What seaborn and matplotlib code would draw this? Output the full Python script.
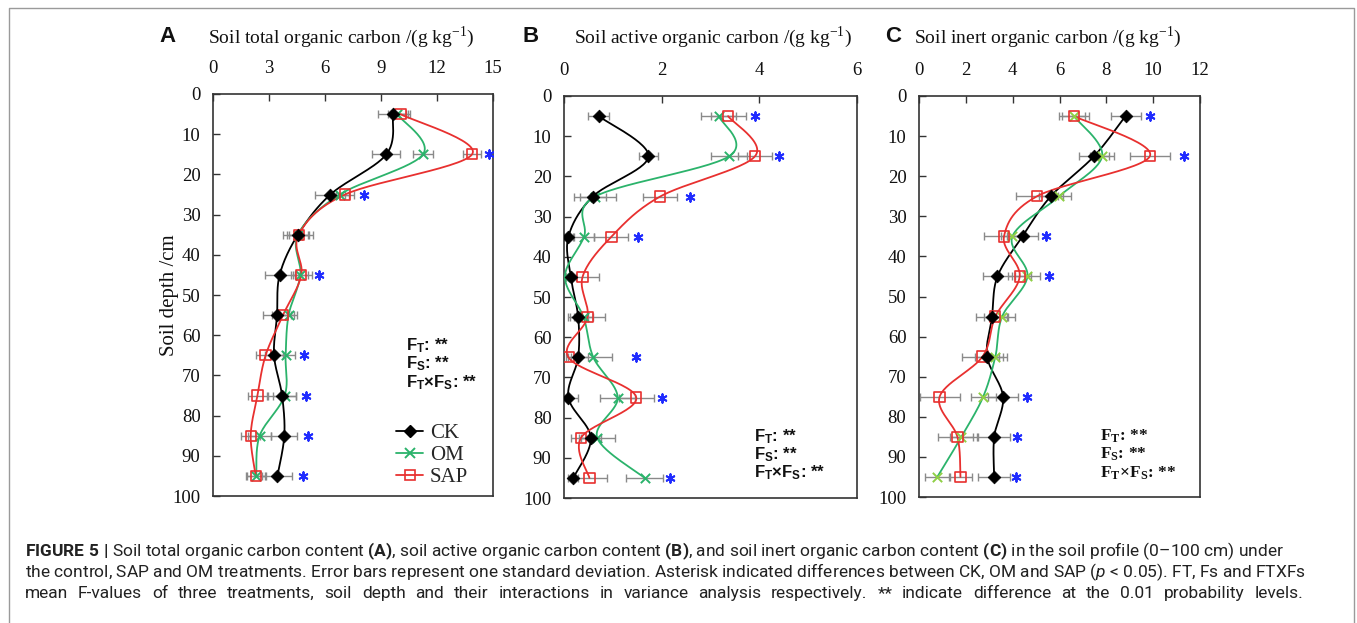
import numpy as np
import matplotlib
matplotlib.use("Agg")
import matplotlib.pyplot as plt
import seaborn as sns
from matplotlib.lines import Line2D

# ---------------- data ----------------
depth = [5, 15, 25, 35, 45, 55, 65, 75, 85, 95]

# soil total organic carbon (g/kg)
toc_ck = [9.64, 9.29, 6.29, 4.55, 3.57, 3.43, 3.27, 3.70, 3.82, 3.45]
toc_om = [9.85, 11.25, 6.79, 4.55, 4.68, 4.05, 3.89, 3.84, 2.50, 2.32]
toc_sap = [10.04, 13.88, 7.07, 4.59, 4.73, 3.75, 2.82, 2.38, 2.02, 2.29]
toc_ck_sd = [0.80, 0.75, 0.80, 0.80, 0.80, 0.75, 0.50, 0.75, 0.70, 0.80]
toc_om_sd = [0.50, 0.52, 0.50, 0.60, 0.40, 0.45, 0.50, 0.60, 0.60, 0.50]
toc_sap_sd = [0.50, 0.50, 0.50, 0.50, 0.55, 0.60, 0.50, 0.50, 0.50, 0.50]
toc_star_depth = [15, 25, 45, 65, 75, 85, 95]
toc_star_x = [14.8, 8.1, 5.7, 4.9, 5.0, 5.1, 4.8]

# soil active organic carbon (g/kg)
aoc_ck = [0.71, 1.73, 0.59, 0.09, 0.14, 0.29, 0.29, 0.09, 0.55, 0.19]
aoc_om = [3.17, 3.38, 0.64, 0.41, 0.02, 0.40, 0.60, 1.10, 0.68, 1.65]
aoc_sap = [3.36, 3.91, 1.97, 0.97, 0.38, 0.48, 0.09, 1.48, 0.35, 0.52]
aoc_ck_sd = [0.21, 0.20, 0.27, 0.10, 0.10, 0.20, 0.20, 0.20, 0.20, 0.10]
aoc_om_sd = [0.36, 0.37, 0.43, 0.20, 0.10, 0.20, 0.38, 0.36, 0.37, 0.38]
aoc_sap_sd = [0.36, 0.34, 0.35, 0.35, 0.34, 0.35, 0.05, 0.36, 0.20, 0.36]
aoc_star_depth = [5, 15, 25, 35, 65, 75, 95]
aoc_star_x = [3.92, 4.40, 2.57, 1.51, 1.48, 2.00, 2.18]

# soil inert organic carbon (g/kg)
ioc_ck = [8.82, 7.48, 5.63, 4.42, 3.35, 3.12, 2.91, 3.59, 3.21, 3.21]
ioc_om = [6.61, 7.82, 5.99, 3.99, 4.63, 3.55, 3.26, 2.74, 1.81, 0.78]
ioc_sap = [6.61, 9.86, 5.04, 3.63, 4.30, 3.26, 2.71, 0.88, 1.64, 1.77]
ioc_ck_sd = [0.64, 0.64, 0.50, 0.67, 0.61, 0.70, 0.50, 0.64, 0.67, 0.67]
ioc_om_sd = [0.65, 0.50, 0.50, 0.50, 0.53, 0.57, 0.50, 0.53, 0.50, 0.54]
ioc_sap_sd = [0.50, 0.85, 0.88, 0.85, 0.50, 0.50, 0.86, 0.85, 0.83, 0.50]
ioc_star_depth = [5, 15, 35, 45, 75, 85, 95]
ioc_star_x = [9.86, 11.3, 5.44, 5.54, 4.63, 4.20, 4.16]

treatments = ["CK", "OM", "SAP"]
depth_ticks = list(range(0, 101, 10))

# ---------------- style ----------------
sns.set_theme(style="white")
SERIF = ["Liberation Serif", "DejaVu Serif"]
SANS = ["Liberation Sans", "DejaVu Sans"]
plt.rcParams["font.family"] = SERIF
plt.rcParams["mathtext.fontset"] = "custom"
plt.rcParams["mathtext.rm"] = "Roboto"
plt.rcParams["mathtext.bf"] = "Roboto:bold"
plt.rcParams["mathtext.it"] = "Roboto:italic"

C_CK = "#000000"
C_OM = "#2bb36b"
C_SAP = "#e8302f"
C_ERR = "#8a8a8a"
C_STAR = "#1f2bff"

W, H = 1357, 623
fig = plt.figure(figsize=(W / 100, H / 100), dpi=100)
fig.patch.set_facecolor("white")


def px_axes(left, top, right, bottom):
    return fig.add_axes([left / W, 1 - bottom / H, (right - left) / W, (bottom - top) / H])


def smooth_curve(xv, yv, sx, sy, n=30):
    """Bezier smoothing (Catmull-Rom control points) in display proportions."""
    P = np.column_stack([np.asarray(xv, float) * sx, np.asarray(yv, float) * sy])
    ext = np.vstack([P[0], P, P[-1]])
    t = np.linspace(0, 1, n)[:, None]
    out = []
    for i in range(len(P) - 1):
        p0, p1, p2, p3 = ext[i], ext[i + 1], ext[i + 2], ext[i + 3]
        c1 = p1 + (p2 - p0) / 6
        c2 = p2 - (p3 - p1) / 6
        seg = ((1 - t) ** 3) * p1 + 3 * ((1 - t) ** 2) * t * c1 + 3 * (1 - t) * t ** 2 * c2 + t ** 3 * p2
        out.append(seg if i == 0 else seg[1:])
    out = np.vstack(out)
    return out[:, 0] / sx, out[:, 1] / sy


def draw_panel(ax, ck, om, sap, sds, star_d, star_x, xmax, xstep, wpx, hpx, om_mark):
    vals = [ck, om, sap]
    cols = [C_CK, C_OM, C_SAP]
    for v, sd in zip(vals, sds):
        ax.errorbar(v, depth, xerr=sd, fmt="none", ecolor=C_ERR, elinewidth=1.0,
                    capsize=3, capthick=1.0, zorder=2)
    for v, c in zip(vals, cols):
        sx_, sy_ = smooth_curve(v, depth, wpx / xmax, hpx / 100.0)
        sns.lineplot(x=sx_, y=sy_, sort=False, estimator=None, color=c, linewidth=1.3,
                     ax=ax, zorder=3, legend=False)
    sns.scatterplot(x=om, y=depth, marker="x", s=45, color=om_mark, linewidth=1.4,
                    ax=ax, zorder=4, legend=False)
    sns.scatterplot(x=sap, y=depth, marker="s", s=55, facecolor="none", edgecolor=C_SAP,
                    linewidth=1.2, ax=ax, zorder=5, legend=False)
    sns.scatterplot(x=ck, y=depth, marker="D", s=42, color=C_CK, edgecolor=C_CK,
                    ax=ax, zorder=6, legend=False)
    sns.scatterplot(x=star_x, y=star_d, marker=(6, 2, 0), s=38, color=C_STAR,
                    linewidth=1.4, ax=ax, zorder=6, legend=False)

    ax.set_xlim(0, xmax)
    ax.set_ylim(100, 0)
    ax.xaxis.tick_top()
    ax.set_xticks(np.arange(0, xmax + 1e-9, xstep))
    ax.set_yticks(depth_ticks)
    ax.tick_params(axis="both", direction="in", length=5, width=1.0, color="#333333",
                   labelsize=13.5, labelcolor="#111111")
    ax.tick_params(axis="x", pad=12.5, top=True, bottom=False)
    ax.tick_params(axis="y", pad=9, left=True, right=False)
    for lab in ax.get_xticklabels() + ax.get_yticklabels():
        lab.set_fontfamily(SERIF)
    for sp in ax.spines.values():
        sp.set_visible(True)
        sp.set_color("#333333")
        sp.set_linewidth(1.2)
    ax.set_xlabel("")
    ax.set_ylabel("")
    ax.grid(False)


axA = px_axes(213, 94, 493, 496)
axB = px_axes(564, 96, 857, 498)
axC = px_axes(919, 96, 1200, 497)

draw_panel(axA, toc_ck, toc_om, toc_sap, [toc_ck_sd, toc_om_sd, toc_sap_sd],
           toc_star_depth, toc_star_x, 15, 3, 280, 402, C_OM)
draw_panel(axB, aoc_ck, aoc_om, aoc_sap, [aoc_ck_sd, aoc_om_sd, aoc_sap_sd],
           aoc_star_depth, aoc_star_x, 6, 2, 293, 402, C_OM)
draw_panel(axC, ioc_ck, ioc_om, ioc_sap, [ioc_ck_sd, ioc_om_sd, ioc_sap_sd],
           ioc_star_depth, ioc_star_x, 12, 2, 281, 401, "#8fcf45")

axA.set_ylabel("Soil depth /cm", fontsize=15, fontfamily=SERIF, color="#111111")
axA.yaxis.set_label_coords(-0.12, 0.5)

# legend (panel A)
handles = [
    Line2D([], [], color=C_CK, marker="D", markersize=6, lw=1.3),
    Line2D([], [], color=C_OM, marker="x", markersize=7, mew=1.4, lw=1.3),
    Line2D([], [], color=C_SAP, marker="s", markersize=7, mfc="none", mew=1.2, lw=1.3),
]
axA.legend(handles, treatments, loc="lower left", bbox_to_anchor=(0.655, 0.022),
           frameon=False, prop={"family": SERIF, "size": 15}, handlelength=1.3,
           handletextpad=0.3, labelspacing=0.12, borderpad=0, borderaxespad=0)

# panel titles and letters
titles = [
    (167, 341, "A", r"Soil total organic carbon /(g kg$^{\mathregular{-1}}$)"),
    (531, 713, "B", r"Soil active organic carbon /(g kg$^{\mathregular{-1}}$)"),
    (893, 1048, "C", r"Soil inert organic carbon /(g kg$^{\mathregular{-1}}$)"),
]
for lx, tx, letter, title in titles:
    fig.text(lx / W, 1 - 37 / H, letter, ha="center", va="center", fontsize=16,
             fontweight="bold", family=SANS, color="#111111")
    fig.text(tx / W, 1 - 37 / H, title, ha="center", va="center", fontsize=14,
             family=SERIF, color="#111111")

# variance analysis annotations
f_lines = [r"F$_\mathregular{T}$: **", r"F$_\mathregular{S}$: **",
           r"F$_\mathregular{T}$×F$_\mathregular{S}$: **"]
f_blocks = [(406, [350, 368.5, 387], SANS, 12), (754, [441, 459, 477], SANS, 12),
            (1100, [440, 458.5, 477], SERIF, 12.5)]
for fx, ys, fam, fs in f_blocks:
    for y, s in zip(ys, f_lines):
        fig.text(fx / W, 1 - y / H, s, ha="left", va="baseline", fontsize=fs,
                 fontweight="bold", family=fam, color="#111111")

# outer frame
fig.add_artist(Line2D([9 / W, 9 / W, 1354 / W, 1354 / W], [0, 1 - 8 / H, 1 - 8 / H, 0],
                      transform=fig.transFigure, color="#9a9a9a", lw=1.0))

# caption
cap1 = (r"$\mathbf{FIGURE\ 5\ |}$ Soil total organic carbon content $\mathbf{(A)}$, soil active "
        r"organic carbon content $\mathbf{(B)}$, and soil inert organic carbon content "
        r"$\mathbf{(C)}$ in the soil profile (0–100 cm) under")
cap2 = (r"the control, SAP and OM treatments. Error bars represent one standard deviation. "
        r"Asterisk indicated differences between CK, OM and SAP ($\mathit{p}$ < 0.05). "
        r"FT, Fs and FTXFs")
cap3 = ("mean F-values of three treatments, soil depth and their interactions in variance "
        "analysis respectively. ** indicate difference at the 0.01 probability levels.")

CAP_FONT = ["Roboto", "DejaVu Sans"]
x0 = 25
renderer = fig.canvas.get_renderer()


def fit_line(s, y_base, x_end, base=12.0):
    t = fig.text(x0 / W, 1 - y_base / H, s, ha="left", va="baseline", fontsize=base,
                 family=CAP_FONT, color="#222222")
    w = t.get_window_extent(renderer).width
    t.set_fontsize(base * (x_end - x0) / w)
    return t


t1 = fit_line(cap1, 556, 1279)
size = t1.get_fontsize()
t2 = fig.text(x0 / W, 1 - 577 / H, cap2, ha="left", va="baseline", fontsize=size,
              family=CAP_FONT, color="#222222")
w2 = t2.get_window_extent(renderer).width
if w2 > 1322 - x0:
    t2.set_fontsize(size * (1322 - x0) / w2)

# justified last line
words = cap3.split(" ")
widths = []
for wd in words:
    tt = fig.text(0, 0, wd, fontsize=size, family=CAP_FONT)
    widths.append(tt.get_window_extent(renderer).width)
    tt.remove()
gap = ((1303 - x0) - sum(widths)) / (len(words) - 1)
xc = x0
for wd, wv in zip(words, widths):
    fig.text(xc / W, 1 - 598 / H, wd, ha="left", va="baseline", fontsize=size,
             family=CAP_FONT, color="#222222")
    xc += wv + gap

fig.savefig("out.png", dpi=100, facecolor="white")
